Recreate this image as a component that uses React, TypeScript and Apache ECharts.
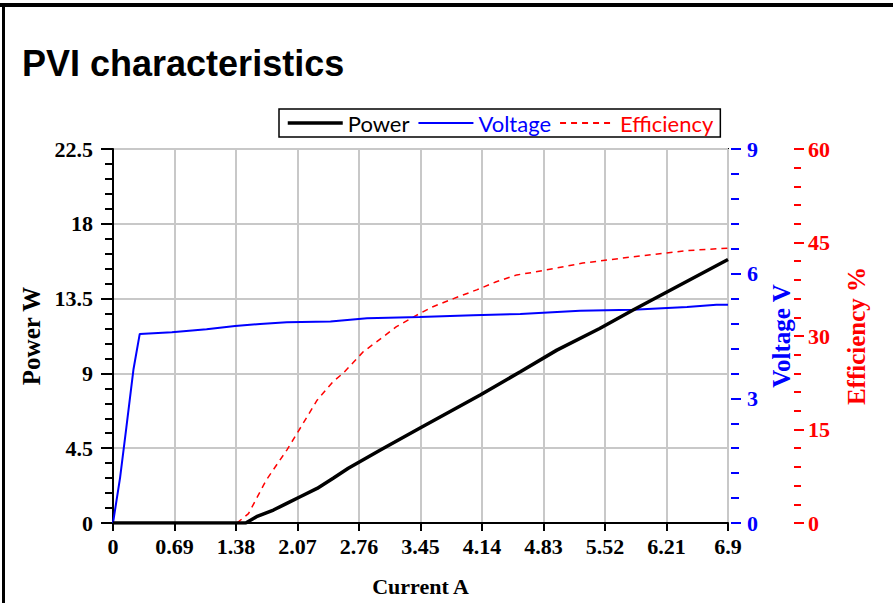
import React, { useEffect, useRef } from "react";
import * as echarts from "echarts";

const titleText = "PVI characteristics";
const xTicks = [0, 0.69, 1.38, 2.07, 2.76, 3.45, 4.14, 4.83, 5.52, 6.21, 6.9];

const currentP = [0, 1.49, 1.61, 1.8, 1.95, 2.1, 2.29, 2.47, 2.64, 3.0, 3.44, 4.12, 4.57, 4.98, 5.46, 5.83, 6.9];
const power = [0, 0, 0.38, 0.78, 1.18, 1.58, 2.08, 2.69, 3.29, 4.39, 5.7, 7.7, 9.1, 10.4, 11.7, 12.8, 15.85];

const currentV = [0, 0.08, 0.15, 0.23, 0.3, 0.66, 1.05, 1.37, 1.65, 1.95, 2.44, 2.85, 3.44, 4.04, 4.57, 5.24, 5.83, 6.44, 6.77, 6.9];
const voltage = [0, 1.1, 2.3, 3.7, 4.55, 4.59, 4.66, 4.74, 4.79, 4.83, 4.85, 4.93, 4.96, 5.0, 5.03, 5.11, 5.13, 5.2, 5.25, 5.25];

const currentE = [1.39, 1.52, 1.72, 1.95, 2.1, 2.29, 2.47, 2.58, 2.81, 2.96, 3.18, 3.44, 3.59, 3.82, 4.08, 4.3, 4.53, 4.71, 5.27, 5.83, 6.44, 6.9];
const efficiency = [0, 1.5, 6.9, 11.7, 15.2, 19.7, 22.7, 24.0, 27.5, 29.1, 31.5, 33.6, 34.7, 36.0, 37.4, 38.7, 39.8, 40.2, 41.7, 42.7, 43.7, 44.1];

const SERIF = "'Liberation Serif', 'Times New Roman', serif";
const SANS = "'Liberation Sans', Arial, sans-serif";

export default function App() {
  const ref = useRef<HTMLDivElement>(null);
  useEffect(() => {
    const chart = echarts.init(ref.current!, undefined, { renderer: "svg" });
    const labelFont = { fontFamily: SERIF, fontWeight: "bold" as const, fontSize: 22 };
    chart.setOption({
      animation: false,
      backgroundColor: "#fff",
      title: {
        text: titleText,
        left: 17,
        top: 40,
        textStyle: { fontFamily: SANS, fontWeight: "bold", fontSize: 36, color: "#000" },
      },
      graphic: [
        { type: "rect", shape: { x: 0, y: 3, width: 893, height: 4 }, style: { fill: "#000" } },
        { type: "rect", shape: { x: 2, y: 3, width: 3, height: 600 }, style: { fill: "#000" } },
      ],
      legend: {
        left: 279,
        top: 109,
        padding: [3, 7, 3, 7],
        borderColor: "#000",
        borderWidth: 1.5,
        itemWidth: 55,
        itemHeight: 14,
        itemGap: 8,
        itemStyle: { opacity: 0 },
        textStyle: { fontFamily: "Lato, 'Open Sans', sans-serif", fontSize: 22 },
        data: [
          { name: "Power", textStyle: { color: "#000" }, lineStyle: { width: 3.5, color: "#000" } },
          { name: "Voltage", textStyle: { color: "#0000ff" }, lineStyle: { width: 2, color: "#0000ff" } },
          { name: "Efficiency", textStyle: { color: "#ff0000" }, lineStyle: { width: 2, color: "#ff0000", type: [6, 5] } },
        ],
      },
      grid: {
        left: 113,
        right: 165,
        top: 149,
        bottom: 80,
        show: true,
        borderColor: "#000",
        borderWidth: 2,
        backgroundColor: "transparent",
      },
      xAxis: {
        type: "value",
        min: 0,
        max: 6.9,
        interval: 0.69,
        name: "Current A",
        nameLocation: "middle",
        nameGap: 52,
        nameTextStyle: { ...labelFont, color: "#000" },
        axisLine: { show: true, lineStyle: { color: "#000", width: 2 } },
        axisTick: { show: true, length: 8, lineStyle: { color: "#000", width: 2 } },
        axisLabel: {
          ...labelFont,
          color: "#000",
          margin: 12,
          showMinLabel: true,
          showMaxLabel: true,
          formatter: (v: number) => String(parseFloat(v.toFixed(2))),
        },
        splitLine: { show: true, lineStyle: { color: "#c8c8c8", width: 2 } },
      },
      yAxis: [
        {
          type: "value",
          min: 0,
          max: 22.5,
          interval: 4.5,
          position: "left",
          name: "Power W",
          nameLocation: "middle",
          nameRotate: 90,
          nameGap: 62,
          nameTextStyle: { ...labelFont, fontSize: 25, color: "#000" },
          axisLine: { show: true, lineStyle: { color: "#000", width: 2 } },
          axisTick: { show: true, length: 12, lineStyle: { color: "#000", width: 2 } },
          minorTick: { show: true, splitNumber: 5, length: 8, lineStyle: { color: "#000", width: 2 } },
          axisLabel: { ...labelFont, color: "#000", margin: 20 },
          splitLine: { show: true, lineStyle: { color: "#c8c8c8", width: 2 } },
        },
        {
          type: "value",
          min: 0,
          max: 9,
          interval: 3,
          position: "right",
          offset: 3,
          name: "Voltage V",
          nameLocation: "middle",
          nameRotate: 90,
          nameGap: 38,
          nameTextStyle: { ...labelFont, fontSize: 25, color: "#0000ff" },
          axisLine: { show: false },
          axisTick: { show: true, length: 10, lineStyle: { color: "#0000ff", width: 2 } },
          minorTick: { show: true, splitNumber: 5, length: 8, lineStyle: { color: "#0000ff", width: 2 } },
          axisLabel: { ...labelFont, color: "#0000ff", margin: 16 },
          splitLine: { show: false },
        },
        {
          type: "value",
          min: 0,
          max: 60,
          interval: 15,
          position: "right",
          offset: 66,
          name: "Efficiency %",
          nameLocation: "middle",
          nameRotate: 90,
          nameGap: 50,
          nameTextStyle: { ...labelFont, fontSize: 25, color: "#ff0000" },
          axisLine: { show: false },
          axisTick: { show: true, length: 10, lineStyle: { color: "#ff0000", width: 2 } },
          minorTick: { show: true, splitNumber: 5, length: 7, lineStyle: { color: "#ff0000", width: 2 } },
          axisLabel: { ...labelFont, color: "#ff0000", margin: 14 },
          splitLine: { show: false },
        },
      ],
      series: [
        {
          name: "Efficiency",
          type: "line",
          yAxisIndex: 2,
          symbol: "none",
          data: currentE.map((x, i) => [x, efficiency[i]]),
          lineStyle: { color: "#ff0000", width: 1.5, type: [6, 5] },
          itemStyle: { color: "#ff0000" },
        },
        {
          name: "Voltage",
          type: "line",
          yAxisIndex: 1,
          symbol: "none",
          data: currentV.map((x, i) => [x, voltage[i]]),
          lineStyle: { color: "#0000ff", width: 2 },
          itemStyle: { color: "#0000ff" },
        },
        {
          name: "Power",
          type: "line",
          yAxisIndex: 0,
          symbol: "none",
          data: currentP.map((x, i) => [x, power[i]]),
          lineStyle: { color: "#000", width: 3.5 },
          itemStyle: { color: "#000" },
        },
      ],
    });
    return () => chart.dispose();
  }, []);
  return (
    <div
      ref={ref}
      style={{ position: "absolute", left: 0, top: 0, width: 893, height: 603, background: "#fff" }}
    />
  );
}
